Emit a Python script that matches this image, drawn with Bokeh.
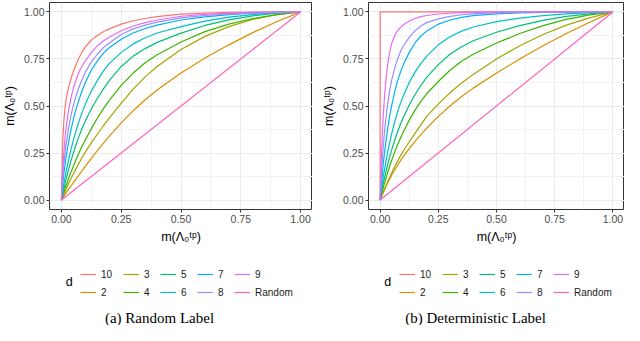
from bokeh.plotting import figure
from bokeh.models import FixedTicker, NumeralTickFormatter, Legend, LegendItem, Range1d, Label
from bokeh.layouts import row, column
from bokeh.embed import file_html
from bokeh.resources import INLINE

# ---- data ----
x_grid = [0, 0.005, 0.01, 0.015, 0.02, 0.03, 0.04, 0.05, 0.0625, 0.075, 0.0875, 0.1,
          0.125, 0.15, 0.175, 0.2, 0.25, 0.3, 0.35, 0.4, 0.5, 0.6, 0.7, 0.8, 0.9, 1.0]

# (a) Random Label
rl_10 = [0, .30, .42, .49, .54, .60, .645, .685, .725, .76, .79, .815, .85, .875, .895, .91, .935, .953, .965, .975, .988, .994, .997, .999, 1, 1]
rl_9 = [0, .15, .25, .33, .39, .48, .545, .595, .645, .685, .715, .74, .785, .82, .845, .865, .90, .925, .943, .957, .977, .987, .993, .997, .999, 1]
rl_8 = [0, .11, .19, .25, .30, .385, .45, .505, .56, .605, .645, .68, .735, .775, .81, .835, .88, .91, .93, .946, .968, .981, .99, .995, .998, 1]
rl_7 = [0, .08, .14, .19, .235, .31, .375, .43, .49, .54, .585, .625, .69, .74, .78, .81, .855, .888, .912, .93, .957, .974, .986, .993, .997, 1]
rl_6 = [0, .045, .085, .12, .155, .215, .27, .32, .375, .425, .47, .51, .58, .635, .685, .725, .785, .83, .863, .888, .922, .951, .972, .986, .995, 1]
rl_5 = [0, .03, .06, .088, .115, .165, .21, .25, .30, .345, .385, .42, .485, .54, .59, .635, .71, .765, .805, .838, .887, .928, .958, .979, .993, 1]
rl_4 = [0, .02, .04, .06, .08, .115, .15, .18, .22, .255, .29, .32, .38, .435, .485, .53, .61, .675, .73, .772, .84, .895, .935, .965, .986, 1]
rl_3 = [0, .015, .03, .045, .06, .088, .115, .14, .17, .20, .23, .255, .305, .35, .395, .435, .515, .59, .655, .71, .80, .87, .922, .96, .985, 1]
rl_2 = [0, .01, .02, .03, .04, .058, .075, .093, .115, .137, .158, .18, .222, .263, .302, .34, .41, .475, .533, .585, .675, .755, .825, .89, .948, 1]

# (b) Deterministic Label
dl_10_x = [0, 0, 1]
dl_10_y = [0, 1, 1]
dl_9 = [0, .22, .37, .48, .57, .70, .78, .835, .875, .90, .918, .932, .952, .965, .975, .981, .989, .993, .996, .998, .999, 1, 1, 1, 1, 1]
dl_8 = [0, .13, .23, .31, .38, .49, .575, .64, .70, .75, .79, .82, .865, .90, .925, .943, .963, .976, .985, .99, .996, .998, .999, 1, 1, 1]
dl_7 = [0, .08, .15, .21, .265, .36, .44, .505, .575, .635, .68, .72, .785, .835, .872, .898, .935, .957, .971, .98, .99, .995, .998, .999, 1, 1]
dl_6 = [0, .05, .095, .135, .17, .24, .30, .355, .415, .47, .515, .555, .625, .68, .725, .765, .825, .868, .898, .92, .948, .967, .98, .99, .996, 1]
dl_5 = [0, .035, .068, .098, .125, .177, .225, .268, .318, .363, .404, .44, .505, .56, .61, .652, .72, .775, .815, .847, .892, .927, .955, .976, .99, 1]
dl_4 = [0, .025, .05, .073, .095, .137, .177, .213, .255, .294, .33, .363, .425, .478, .525, .565, .63, .69, .738, .775, .835, .885, .927, .96, .984, 1]
dl_3 = [0, .016, .032, .047, .062, .091, .118, .145, .177, .207, .235, .262, .31, .355, .40, .445, .51, .57, .622, .668, .75, .82, .88, .93, .968, 1]
dl_2 = [0, .015, .03, .044, .058, .085, .11, .133, .16, .186, .21, .232, .274, .312, .348, .382, .445, .50, .55, .595, .675, .75, .82, .885, .945, 1]

random_x = [0, 1]
random_y = [0, 1]

series_names = ["10", "2", "3", "4", "5", "6", "7", "8", "9", "Random"]
colors = ["#F8766D", "#D89000", "#A3A500", "#39B600", "#00BF7D",
          "#00BFC4", "#00B0F6", "#9590FF", "#E76BF3", "#FF62BC"]
legend_columns = [["10", "2"], ["3", "4"], ["5", "6"], ["7", "8"], ["9", "Random"]]
major_ticks = [0, 0.25, 0.5, 0.75, 1.0]
minor_ticks = [0.125, 0.375, 0.625, 0.875]
axis_title = "m(Λ₀ᵗᵖ)"

palette = dict(zip(series_names, colors))

left_series = {
    "10": (x_grid, rl_10), "2": (x_grid, rl_2), "3": (x_grid, rl_3), "4": (x_grid, rl_4),
    "5": (x_grid, rl_5), "6": (x_grid, rl_6), "7": (x_grid, rl_7), "8": (x_grid, rl_8),
    "9": (x_grid, rl_9), "Random": (random_x, random_y),
}
right_series = {
    "10": (dl_10_x, dl_10_y), "2": (x_grid, dl_2), "3": (x_grid, dl_3), "4": (x_grid, dl_4),
    "5": (x_grid, dl_5), "6": (x_grid, dl_6), "7": (x_grid, dl_7), "8": (x_grid, dl_8),
    "9": (x_grid, dl_9), "Random": (random_x, random_y),
}

FIG_W = 312
PLOT_H = 246
LEG_H = 79
NAN = float("nan")


def make_plot(series, border_left, border_right):
    p = figure(width=FIG_W, height=PLOT_H, output_backend="svg", toolbar_location=None,
               x_range=Range1d(-0.05, 1.05), y_range=Range1d(-0.05, 1.05),
               min_border_left=border_left, min_border_right=border_right,
               min_border_top=2, min_border_bottom=0)
    p.background_fill_color = "white"
    p.border_fill_color = "white"
    p.outline_line_color = "#333333"
    p.outline_line_width = 1

    for name in series_names:
        xs, ys = series[name]
        p.line(xs, ys, line_color=palette[name], line_width=1.2)

    for ax in (p.xaxis[0], p.yaxis[0]):
        ax.ticker = FixedTicker(ticks=major_ticks, minor_ticks=minor_ticks)
        ax.formatter = NumeralTickFormatter(format="0.00")
        ax.axis_line_color = None
        ax.major_tick_line_color = "#333333"
        ax.major_tick_in = 0
        ax.major_tick_out = 3
        ax.minor_tick_in = 0
        ax.minor_tick_out = 0
        ax.major_label_text_font = "Liberation Sans"
        ax.major_label_text_font_size = "10.5px"
        ax.major_label_text_color = "#4D4D4D"
        ax.major_label_standoff = 2
        ax.axis_label = axis_title
        ax.axis_label_text_font = "Liberation Sans"
        ax.axis_label_text_font_size = "12.5px"
        ax.axis_label_text_font_style = "normal"
        ax.axis_label_text_color = "#000000"
        ax.axis_label_standoff = 4

    p.grid.grid_line_color = "#EBEBEB"
    p.grid.grid_line_width = 1
    p.grid.minor_grid_line_color = "#F2F2F2"
    p.grid.minor_grid_line_width = 1
    return p


def make_legend(plot, caption):
    lf = figure(width=FIG_W, height=LEG_H, output_backend="svg", toolbar_location=None,
                x_range=plot.x_range, y_range=Range1d(0, LEG_H),
                x_axis_location=None, y_axis_location=None,
                min_border=0, min_border_top=0, min_border_bottom=0)
    lf.outline_line_color = None
    lf.grid.visible = False
    lf.background_fill_color = "white"
    lf.border_fill_color = "white"

    col_offsets = [31, 74, 111, 148, 185]
    for cx, names in zip(col_offsets, legend_columns):
        items = []
        for n in names:
            r = lf.line(x=[NAN], y=[NAN], line_color=palette[n], line_width=1.2)
            items.append(LegendItem(label=n, renderers=[r]))
        leg = Legend(items=items, orientation="vertical", location=(cx, 27),
                     label_text_font="Liberation Sans", label_text_font_size="10px",
                     label_text_color="#1A1A1A", label_text_baseline="middle",
                     glyph_width=16, glyph_height=12, label_height=12, label_width=10,
                     label_standoff=5, spacing=6, padding=0, margin=0,
                     border_line_color=None, background_fill_alpha=0)
        lf.add_layout(leg, "center")

    lf.add_layout(Label(x=0.033, y=43.5, text="d", text_align="center",
                        text_baseline="middle", text_font="Liberation Sans",
                        text_font_size="12.5px", text_color="#000000"))
    lf.add_layout(Label(x=0.41, y=8, text=caption, text_align="center",
                        text_baseline="middle", text_font="Liberation Serif",
                        text_font_size="15px", text_color="#000000"))
    return lf


p1 = make_plot(left_series, 40, 0)
p2 = make_plot(right_series, 56, 0)
l1 = make_legend(p1, "(a) Random Label")
l2 = make_legend(p2, "(b) Deterministic Label")

layout = row(column(p1, l1), column(p2, l2))
open("out.html", "w").write(file_html(layout, INLINE))
